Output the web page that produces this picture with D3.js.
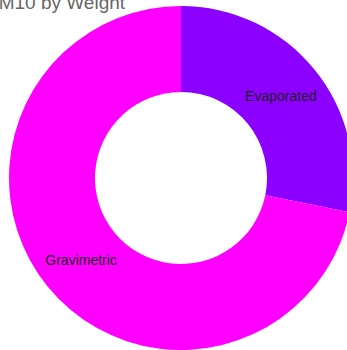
<!DOCTYPE html>
<html>
<head>
<meta charset="utf-8">
<script src="https://cdn.jsdelivr.net/npm/d3@7"></script>
<style>
  html, body { margin: 0; padding: 0; background: #fff; overflow: hidden; }
  svg { display: block; }
</style>
</head>
<body>
<svg id="chart" width="347" height="350"></svg>
<script>
const title = "PM10 by Weight";
const categories = ["Evaporated", "Gravimetric"];
const values = [28.2, 71.8];
const colors = ["#8c00ff", "#ff00ff"];

const W = 347, H = 350;
const cx = 181, cy = 178, outerR = 172, innerR = 86;

const svg = d3.select("#chart");

const data = categories.map((c, i) => ({ name: c, value: values[i] }));
const pie = d3.pie().value(d => d.value).sort(null);
const arc = d3.arc().innerRadius(innerR).outerRadius(outerR);
const color = d3.scaleOrdinal().domain(categories).range(colors);

const g = svg.append("g").attr("transform", `translate(${cx},${cy})`);
const arcs = pie(data);

g.selectAll("path.slice")
  .data(arcs)
  .join("path")
  .attr("class", "slice")
  .attr("d", arc)
  .attr("fill", d => color(d.data.name));

g.selectAll("text.label")
  .data(arcs)
  .join("text")
  .attr("class", "label")
  .attr("transform", d => `translate(${arc.centroid(d)})`)
  .attr("text-anchor", "middle")
  .attr("dy", "0.35em")
  .style("font-family", "'Liberation Sans', Arial, Helvetica, sans-serif")
  .style("font-size", "14px")
  .attr("fill", "#222")
  .text(d => d.data.name);

svg.append("text")
  .attr("x", -14)
  .attr("y", 9)
  .style("font-family", "'Liberation Sans', Arial, Helvetica, sans-serif")
  .style("font-size", "19px")
  .attr("fill", "#666")
  .text(title);
</script>
</body>
</html>
